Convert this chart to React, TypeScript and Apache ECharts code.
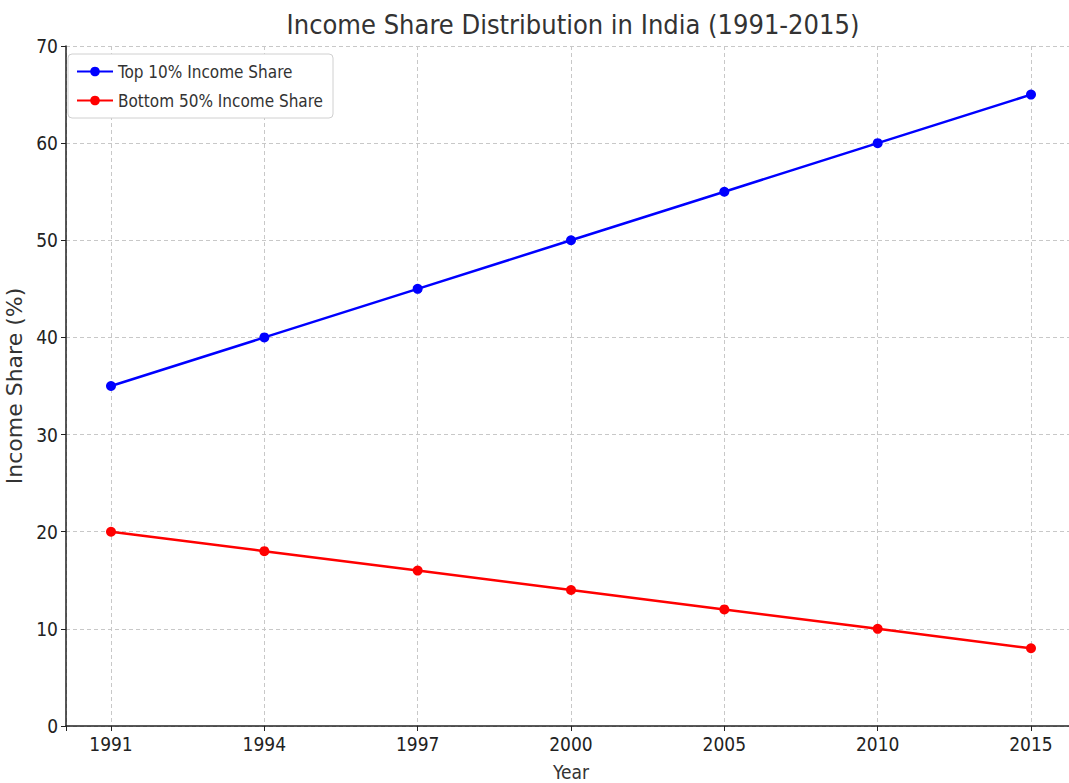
import React, { useEffect, useRef } from "react";
import * as echarts from "echarts";

const years = ["1991", "1994", "1997", "2000", "2005", "2010", "2015"];
const top10 = [35, 40, 45, 50, 55, 60, 65];
const bottom50 = [20, 18, 16, 14, 12, 10, 8];
const yTicks = [0, 10, 20, 30, 40, 50, 60, 70];

const FONT = "'DejaVu Sans Condensed', 'Liberation Sans Narrow', 'Noto Sans', sans-serif";

export default function App() {
  const ref = useRef<HTMLDivElement>(null);
  useEffect(() => {
    const chart = echarts.init(ref.current!, undefined, { renderer: "svg" });
    const toPairs = (arr: number[]) => arr.map((v, i) => [i, v]);
    chart.setOption({
      animation: false,
      backgroundColor: "#fff",
      textStyle: { fontFamily: FONT },
      title: {
        text: "Income Share Distribution in India (1991-2015)",
        left: 568,
        textAlign: "center",
        top: 6,
        textStyle: { fontFamily: FONT, fontSize: 27, fontWeight: "normal", color: "#333" },
      },
      legend: {
        orient: "vertical",
        left: 68,
        top: 54,
        padding: [9, 10, 9, 8],
        itemGap: 12,
        itemWidth: 36,
        itemHeight: 12,
        backgroundColor: "#fff",
        borderColor: "#d0d0d0",
        borderWidth: 1,
        borderRadius: 4,
        textStyle: { fontFamily: FONT, fontSize: 17, color: "#333" },
        data: ["Top 10% Income Share", "Bottom 50% Income Share"],
      },
      grid: { left: 66, top: 46, bottom: 57, right: -7, containLabel: false, outerBoundsMode: "none" },
      xAxis: {
        type: "value",
        min: -0.2935,
        max: 6.2935,
        minInterval: 1,
        maxInterval: 1,
        name: "Year",
        nameLocation: "middle",
        nameGap: 36,
        nameTextStyle: { fontFamily: FONT, fontSize: 19, color: "#333" },
        axisLine: { onZero: false, lineStyle: { color: "#222", width: 1.5 } },
        axisTick: { show: true, length: 5, lineStyle: { color: "#222" } },
        axisLabel: {
          fontFamily: FONT,
          fontSize: 19,
          color: "#222",
          margin: 8,
          showMinLabel: true,
          showMaxLabel: true,
          formatter: (v: number) => (Number.isInteger(v) && v >= 0 && v < years.length ? years[v] : ""),
        },
        splitLine: { show: true, lineStyle: { type: [4, 3], color: "#c8c8c8", width: 1 } },
      },
      yAxis: {
        type: "value",
        min: yTicks[0],
        max: yTicks[yTicks.length - 1],
        interval: 10,
        name: "Income Share (%)",
        nameLocation: "middle",
        nameGap: 29,
        nameTextStyle: { fontFamily: "'DejaVu Sans', sans-serif", fontSize: 22, color: "#333" },
        axisLine: { show: true, onZero: false, lineStyle: { color: "#222", width: 1.5 } },
        axisTick: { show: true, length: 5, lineStyle: { color: "#222" } },
        axisLabel: { fontFamily: FONT, fontSize: 19, color: "#222", margin: 8 },
        splitLine: { show: true, lineStyle: { type: [4, 3], color: "#c8c8c8", width: 1 } },
      },
      series: [
        {
          name: "Top 10% Income Share",
          type: "line",
          data: toPairs(top10),
          symbol: "circle",
          symbolSize: 10,
          color: "#0000ff",
          lineStyle: { width: 2.5, color: "#0000ff" },
          itemStyle: { color: "#0000ff" },
        },
        {
          name: "Bottom 50% Income Share",
          type: "line",
          data: toPairs(bottom50),
          symbol: "circle",
          symbolSize: 10,
          color: "#ff0000",
          lineStyle: { width: 2.5, color: "#ff0000" },
          itemStyle: { color: "#ff0000" },
        },
      ],
    });
    return () => chart.dispose();
  }, []);
  return (
    <div
      ref={ref}
      style={{ position: "fixed", left: 0, top: 0, width: 1069, height: 783 }}
    />
  );
}
